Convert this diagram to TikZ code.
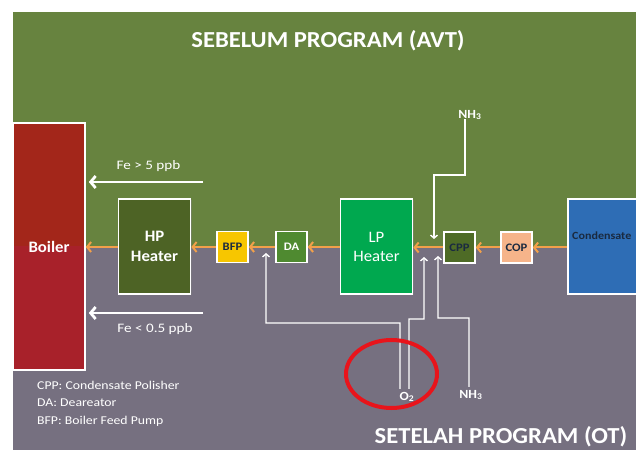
\documentclass[tikz,border=0pt]{standalone}
\usepackage{fontspec}
\setmainfont{Carlito}
\usetikzlibrary{arrows.meta,shadows}
\definecolor{bggreen}{HTML}{67833F}
\definecolor{bgpurple}{HTML}{767080}
\definecolor{boilertop}{HTML}{A3261A}
\definecolor{boilerbot}{HTML}{A8212A}
\definecolor{hpgreen}{HTML}{4D6325}
\definecolor{bfpyellow}{HTML}{F7C600}
\definecolor{dagreen}{HTML}{4F8A30}
\definecolor{lpgreen}{HTML}{00A84F}
\definecolor{cppgreen}{HTML}{4E6B26}
\definecolor{coppeach}{HTML}{F6B48A}
\definecolor{condblue}{HTML}{2E6DB5}
\definecolor{condtext}{HTML}{1A2A40}
\definecolor{flow}{HTML}{F2A04A}
\definecolor{ring}{HTML}{E8141B}
\newcommand{\sx}[2][1.12]{\scalebox{#1}[1]{#2}}
\begin{document}
\begin{tikzpicture}[x=1bp,y=-1bp,
  box/.style={draw=white, line width=1.6bp, inner sep=0pt, align=center,
    drop shadow={shadow xshift=1.2bp, shadow yshift=-1.2bp, opacity=0.45}},
  bigbox/.style={box, minimum width=72bp, minimum height=95bp, text=white,
    font=\fontsize{16}{20}\selectfont\bfseries},
  smallbox/.style={box, minimum width=31bp, minimum height=31bp,
    font=\fontsize{11.5}{13}\selectfont\bfseries},
  flowarrow/.style={draw=flow, line width=2bp,
    -{Straight Barb[length=4bp,width=10bp,line width=2bp]}},
  injarrow/.style={draw=white, line width=1.4bp,
    -{Straight Barb[length=3bp,width=7bp,line width=1.4bp]}},
  fearrow/.style={draw=white, line width=2.8bp,
    -{Straight Barb[length=5bp,width=12bp,line width=2.8bp]}},
  lbl/.style={text=white, inner sep=1pt},
  chem/.style={lbl, font=\fontsize{12.5}{14}\selectfont\bfseries},
  title/.style={text=white, font=\fontsize{23}{26}\selectfont\bfseries, inner sep=0pt}
]
\useasboundingbox (0,0) rectangle (636,450);
\clip (0,0) rectangle (636,450);
% backgrounds
\fill[white] (0,0) rectangle (636,450);
\fill[bggreen] (13,12) rectangle (640,248);
\fill[bgpurple] (13,248) rectangle (640,455);

% titles
\node[title] (t1) at (328,41) {\sx[1.075]{SEBELUM PROGRAM (AVT)}};
\node[title] (t2) at (501,437) {\sx[1.075]{SETELAH PROGRAM (OT)}};

% boxes
\node[box, fill=boilertop, minimum width=72bp, minimum height=247bp,
  text=white, font=\fontsize{16}{18}\selectfont\bfseries,
  path picture={\fill[boilerbot] (path picture bounding box.south west) rectangle (path picture bounding box.east);}]
  (boiler) at (49,246.5) {\sx[1.05]{Boiler}};
\node[bigbox, fill=hpgreen] (hp) at (154.5,246.5) {\sx[1.05]{HP}\\\sx[1.05]{Heater}};
\node[smallbox, fill=bfpyellow, text=condtext] (bfp) at (232.5,247) {\sx[1.1]{BFP}};
\node[smallbox, fill=dagreen, text=white] (da) at (291.5,247) {\sx[1.1]{DA}};
\node[bigbox, fill=lpgreen, font=\fontsize{16}{19}\selectfont] (lp) at (376.5,246.5) {\sx[1.05]{LP}\\\sx[1.05]{Heater}};
\node[smallbox, fill=cppgreen, text=condtext] (cpp) at (459.5,247.5) {\sx[1.1]{CPP}};
\node[smallbox, fill=coppeach, text=condtext] (cop) at (516.5,247.5) {\sx[1.1]{COP}};
\node[box, fill=condblue, minimum width=80bp, minimum height=95bp] (cond) at (608,246.5) {};
\node[text=condtext, font=\fontsize{11}{13}\selectfont\bfseries, anchor=west, inner sep=0pt] (condl) at (572,236) {\sx[1.1]{Condensate}};

% main flow
\draw[flowarrow] (cond.west |- cop.east) -- (cop.east);
\draw[flowarrow] (cop.west) -- (cpp.east);
\draw[flowarrow] (cpp.west) -- (lp.east |- cpp.west);
\draw[flowarrow] (lp.west |- da.east) -- (da.east);
\draw[flowarrow] (da.west) -- (bfp.east);
\draw[flowarrow] (bfp.west) -- (hp.east |- bfp.west);
\draw[flowarrow] (hp.west |- bfp.west) -- (boiler.east |- bfp.west);

% Fe arrows
\node[lbl, font=\fontsize{13}{15}\selectfont] (fe1) at (148.5,166) {\sx[1.17]{Fe > 5 ppb}};
\coordinate (fe1s) at (203,182);
\draw[fearrow, shorten >=3bp] (fe1s) -- (boiler.east |- fe1s);
\node[lbl, font=\fontsize{13}{15}\selectfont] (fe2) at (155,329) {\sx[1.17]{Fe < 0.5 ppb}};
\coordinate (fe2s) at (203,313);
\draw[fearrow, shorten >=3bp] (fe2s) -- (boiler.east |- fe2s);

% NH3 top injection
\node[chem] (nh3t) at (470,115) {\sx[1.1]{NH\textsubscript{3}}};
\coordinate (inj1) at (434,239);
\draw[injarrow] ([xshift=-5bp,yshift=2bp]nh3t.south) -- ++(0,56) -| (inj1);

% bottom injections
\node[chem] (o2) at (407,397) {\sx[1.1]{O\textsubscript{2}}};
\node[chem] (nh3b) at (471,395) {\sx[1.1]{NH\textsubscript{3}}};
\coordinate (injda) at (266,253);
\coordinate (injlp) at (424,257);
\coordinate (injcpp) at (438,256);
\draw[injarrow] ([xshift=-7bp,yshift=2bp]o2.north) -- (400,323) -| (injda);
\draw[injarrow] ([xshift=2bp,yshift=2bp]o2.north) -- (409,319) -| (injlp);
\draw[injarrow] ([xshift=-2bp,yshift=2bp]nh3b.north) -- (469,318) -| (injcpp);

% red ring
\draw[ring, line width=4bp] (391.5,374) ellipse [x radius=45.5, y radius=34];

% legend
\node[lbl, anchor=west, align=left, font=\fontsize{12}{17.5}\selectfont, inner sep=0pt] (legend) at (37,403.5)
  {\sx[1.15]{CPP: Condensate Polisher}\\\sx[1.15]{DA: Deareator}\\\sx[1.15]{BFP: Boiler Feed Pump}};
\end{tikzpicture}
\end{document}
